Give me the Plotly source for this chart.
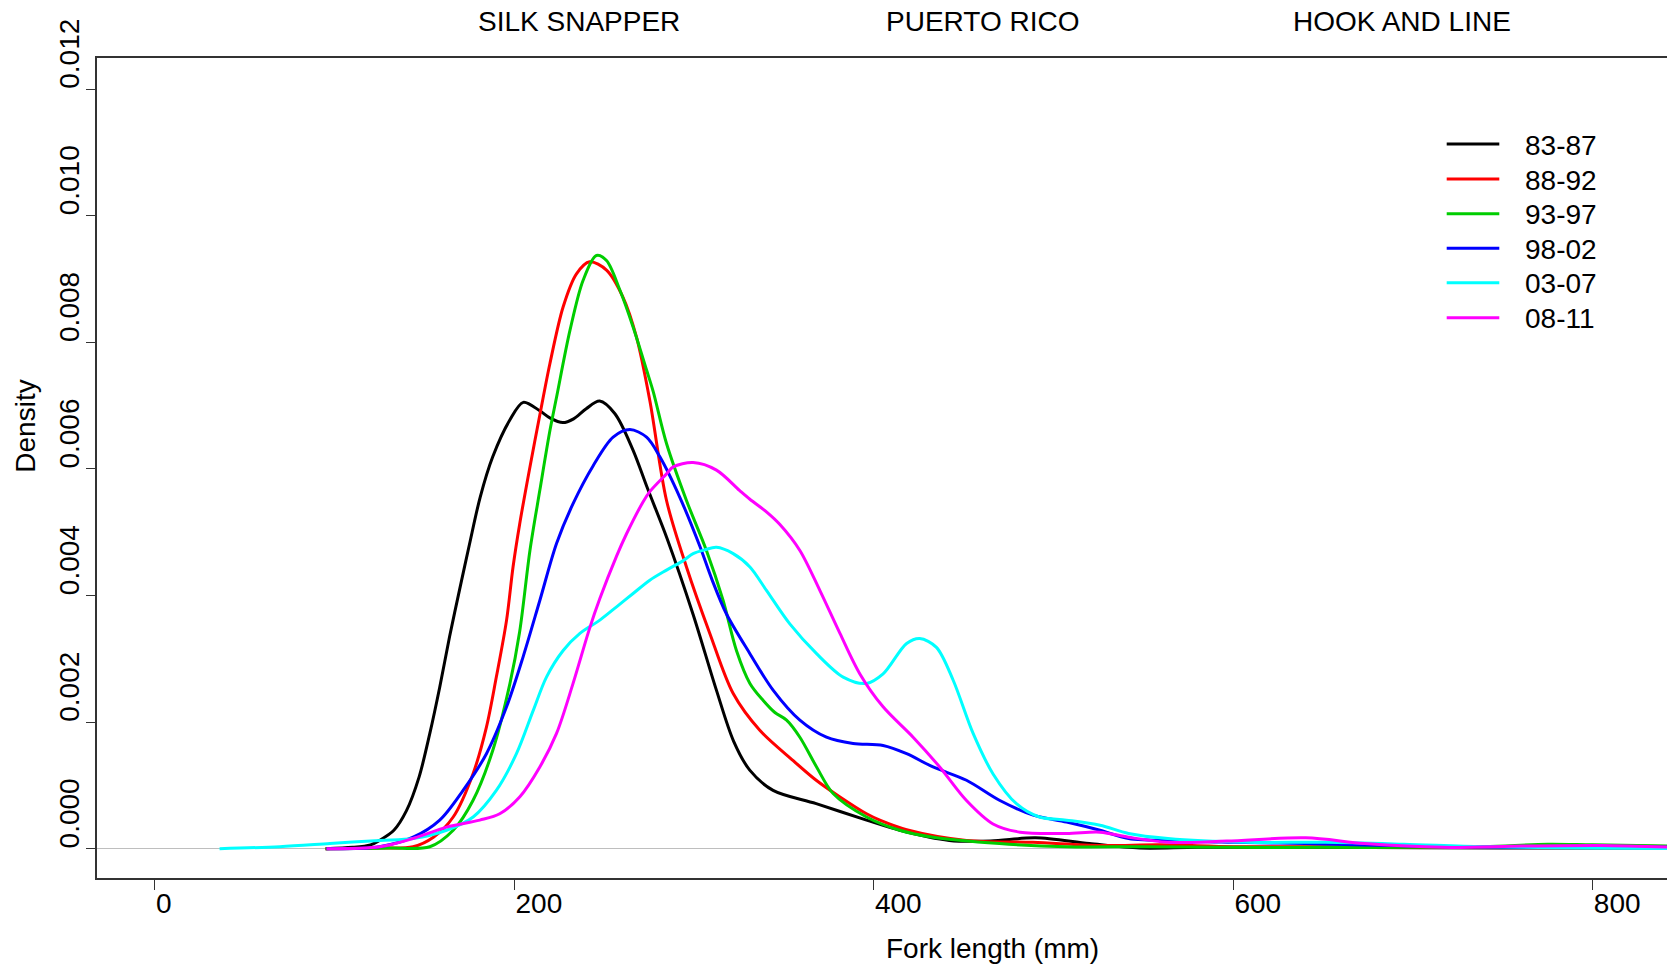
import plotly.graph_objects as go

# ---------------- data ----------------
series_names = ["83-87", "88-92", "93-97", "98-02", "03-07", "08-11"]
series_colors = ["#000000", "#FF0000", "#00CD00", "#0000FF", "#00FFFF", "#FF00FF"]

x_8387 = [95, 110, 120, 125, 133, 140, 147, 153, 158.5, 164, 170, 175, 181, 188, 197.5, 205, 214,
          220, 227, 233, 240, 247.5, 256, 266, 274, 285, 299.5, 312.5, 322, 331, 344, 368, 396,
          414.5, 442, 465, 490, 520, 548, 580, 650, 750, 850]
y_8387 = [0, 0.00002, 0.00006, 0.00013, 0.00029, 0.0006, 0.00113, 0.00182, 0.00255, 0.00335, 0.00415,
          0.0048, 0.00555, 0.00619, 0.00677, 0.00705, 0.00692, 0.0068, 0.00673, 0.00679, 0.00695,
          0.00707, 0.00687, 0.0063, 0.0057, 0.0049, 0.0037, 0.0025, 0.0017, 0.00124, 0.00092, 0.00071,
          0.00045, 0.00029, 0.00013, 0.00012, 0.00017, 0.00008, 0.00001, 0.00002, 0.00002, 0.00001,
          0.00001]

x_8892 = [95, 125, 143.7, 155, 166, 177, 184.5, 190, 195.7, 199.3, 203, 208.7, 214.2, 219.8, 227.2,
          234.6, 241.9, 251.3, 260.5, 268, 275.4, 284.7, 295.8, 308.8, 321.8, 336.6, 355.2, 368, 381,
          396, 403.4, 418.3, 451.6, 488.6, 525.9, 560, 600, 650, 700, 750, 790, 850]
y_8892 = [0, 0.00001, 0.00003, 0.00018, 0.0005, 0.00118, 0.00192, 0.00271, 0.00361, 0.00445, 0.00513,
          0.00603, 0.00685, 0.00766, 0.00856, 0.00908, 0.00927, 0.00914, 0.00871, 0.00808, 0.00708,
          0.0055, 0.00445, 0.0034, 0.00245, 0.00187, 0.00139, 0.00108, 0.00082, 0.00055, 0.00045,
          0.0003, 0.00013, 0.0001, 0.00005, 0.00006, 0.00003, 0.00003, 0.00002, 0.00003, 0.00005,
          0.00003]

x_9397 = [95, 130, 153, 166, 177, 188, 197.5, 203, 208.7, 214.2, 219.8, 223.5, 231, 238.3, 245.7,
          251.3, 258.8, 266.1, 273.6, 277.3, 284.7, 295.8, 306.9, 316.2, 323.6, 331.1, 338.5, 345,
          351.5, 358.9, 368.2, 377.4, 396, 414.5, 433, 470, 507, 550, 600, 650, 700, 740, 775, 800,
          850]
y_9397 = [0, 0.00001, 0.00003, 0.00029, 0.00076, 0.00155, 0.0026, 0.00343, 0.00471, 0.00566, 0.0066,
          0.00713, 0.00819, 0.00898, 0.00937, 0.00929, 0.00882, 0.00824, 0.00756, 0.00722, 0.0064,
          0.0055, 0.00471, 0.00392, 0.00313, 0.00261, 0.00234, 0.00215, 0.00203, 0.00176, 0.00129,
          0.00087, 0.0005, 0.00029, 0.00018, 0.00008, 0.00003, 0.00003, 0.00002, 0.00002, 0.00002,
          0.00003, 0.00007, 0.00006, 0.00004]

x_9802 = [95.5, 125, 143.7, 158.5, 171.5, 184.5, 195.7, 204.9, 214.2, 223.5, 232.7, 243.9, 255, 264.3,
          273.6, 281, 292.1, 303.2, 310, 318, 331.1, 344.1, 358.9, 373.7, 388.5, 405.2, 418.3,
          433, 451.6, 470.2, 488.7, 507.3, 525.9, 541.8, 570, 600, 640, 700, 760, 800, 850]
y_9802 = [0, 0.00003, 0.00018, 0.00045, 0.00092, 0.0015, 0.00224, 0.00303, 0.00392, 0.00482, 0.00545,
          0.00605, 0.0065, 0.00662, 0.0065, 0.00619, 0.00555, 0.00478, 0.00425, 0.00371, 0.00308,
          0.0025, 0.00203, 0.00176, 0.00166, 0.00163, 0.0015, 0.00129, 0.00108, 0.00076, 0.00053,
          0.00042, 0.00029, 0.00016, 0.00012, 0.0001, 0.00008, 0.00004, 0.00002, 0.00003, 0.00002]

x_0307 = [36, 69.5, 97.4, 125.2, 143.7, 162.3, 177.1, 190, 201.2, 210.5, 217.9, 227.2, 236.5, 247.6,
          256.9, 266.1, 275.4, 284.7, 294, 299.5, 306, 312.5, 321.8, 331.1, 340.3, 353.3, 368.2, 383,
          396, 405.2, 418.3, 425.6, 434.9, 444.2, 455.3, 466.4, 479.4, 492.2, 507.3, 525.9, 541.8,
          563.7, 607.5, 651.3, 695.1, 738.9, 800, 850]
y_0307 = [0, 0.00003, 0.00008, 0.00013, 0.00016, 0.00029, 0.0005, 0.00092, 0.0015, 0.00218, 0.00271,
          0.00313, 0.0034, 0.00361, 0.00382, 0.00403, 0.00424, 0.0044, 0.00455, 0.00466, 0.00472,
          0.00476, 0.00466, 0.00445, 0.00408, 0.00355, 0.00308, 0.00271, 0.00261, 0.00276, 0.00324,
          0.00332, 0.00318, 0.00266, 0.00182, 0.00118, 0.00071, 0.0005, 0.00045, 0.00037, 0.00024,
          0.00016, 0.0001, 0.0001, 0.00007, 0.00003, 0.00001, 0]

x_0811 = [95.5, 125.2, 143.7, 162.3, 180.8, 191.9, 203.1, 214.2, 223.5, 232.7, 241.9, 247.6, 256.9,
          262.4, 271.7, 275.4, 284.7, 288.4, 299.5, 312.5, 325.3, 331.1, 340.3, 347.8, 358.9, 370,
          381.2, 392.3, 405.2, 421.9, 436.7, 451.6, 466.4, 481.4, 507.3, 525.9, 541.8, 563.7, 596.5,
          640.4, 673.2, 717, 760.8, 804.6, 850]
y_0811 = [0, 0.00003, 0.00016, 0.00034, 0.00045, 0.00055, 0.00082, 0.00129, 0.00182, 0.00261, 0.00348,
          0.00395, 0.00462, 0.00497, 0.00548, 0.00564, 0.00592, 0.00603, 0.0061, 0.00598, 0.00566,
          0.00552, 0.00532, 0.00512, 0.00471, 0.00408, 0.0034, 0.00276, 0.00224, 0.00176, 0.00129,
          0.00076, 0.00039, 0.00026, 0.00024, 0.00026, 0.00018, 0.0001, 0.00012, 0.00017, 0.00008,
          0.00002, 0.00004, 0.00005, 0.00002]

x_tickvals = [0, 200, 400, 600, 800]
x_ticktext = ["0", "200", "400", "600", "800"]
y_tickvals = [0.0, 0.002, 0.004, 0.006, 0.008, 0.010, 0.012]
y_ticktext = ["0.000", "0.002", "0.004", "0.006", "0.008", "0.010", "0.012"]

header_texts = ["SILK SNAPPER", "PUERTO RICO", "HOOK AND LINE"]
x_title = "Fork length (mm)"
y_title = "Density"

# ---------------- figure ----------------
FONT = "Liberation Sans, Arial, Helvetica, sans-serif"
W, H = 1667, 966
ML, MR, MT, MB = 97, 0, 58, 88
PW, PH = W - ML - MR, H - MT - MB

xs = [x_8387, x_8892, x_9397, x_9802, x_0307, x_0811]
ys = [y_8387, y_8892, y_9397, y_9802, y_0307, y_0811]

fig = go.Figure()
for name, col, x, y in zip(series_names, series_colors, xs, ys):
    fig.add_trace(go.Scatter(
        x=x, y=y, mode="lines", name=name, showlegend=False,
        line=dict(color=col, width=3, shape="spline", smoothing=0.9),
    ))


def px2paper_x(px):
    return (px - ML) / PW


def px2paper_y(py):
    return 1 - (py - MT) / PH


annotations = []
shapes = []
for txt, cx in zip(header_texts, [579, 982, 1402]):
    annotations.append(dict(text=txt, x=px2paper_x(cx), y=px2paper_y(21.7), xref="paper", yref="paper",
                            xanchor="center", yanchor="middle", showarrow=False,
                            font=dict(family=FONT, size=28, color="black")))
annotations.append(dict(text=y_title, x=px2paper_x(26), y=px2paper_y(426.7), xref="paper", yref="paper",
                        xanchor="center", yanchor="middle", textangle=-90, showarrow=False,
                        font=dict(family=FONT, size=28, color="black")))
annotations.append(dict(text=x_title, x=px2paper_x(992.7), y=px2paper_y(948), xref="paper", yref="paper",
                        xanchor="center", yanchor="middle", showarrow=False,
                        font=dict(family=FONT, size=28, color="black")))

# legend (line samples + labels), one row per series
legend_row_px = [144, 179, 213.7, 248.3, 282.7, 317.7]
for name, col, ry in zip(series_names, series_colors, legend_row_px):
    shapes.append(dict(type="line", xref="paper", yref="paper",
                       x0=px2paper_x(1446.7), x1=px2paper_x(1499.3),
                       y0=px2paper_y(ry), y1=px2paper_y(ry),
                       line=dict(color=col, width=3)))
    annotations.append(dict(text=name, x=px2paper_x(1523), y=px2paper_y(ry + 1), xref="paper", yref="paper",
                            xanchor="left", yanchor="middle", showarrow=False,
                            font=dict(family=FONT, size=28, color="black")))

fig.update_layout(
    width=W, height=H,
    margin=dict(l=ML, r=MR, t=MT, b=MB, pad=0),
    paper_bgcolor="white", plot_bgcolor="white",
    font=dict(family=FONT, size=28, color="black"),
    showlegend=False,
    annotations=annotations,
    shapes=shapes,
)
fig.update_xaxes(
    range=[-32.2, 841.4], tickmode="array", tickvals=x_tickvals, ticktext=x_ticktext,
    ticks="outside", ticklen=10, tickwidth=1, tickcolor="#333333",
    ticklabelposition="outside right",
    showline=True, linecolor="#333333", linewidth=1.5, mirror=True,
    showgrid=False, zeroline=False,
    tickfont=dict(family=FONT, size=28, color="black"),
)
fig.update_yaxes(
    range=[-0.000464, 0.01249], tickmode="array", tickvals=y_tickvals, ticktext=y_ticktext,
    ticks="outside", ticklen=9, tickwidth=1, tickcolor="#333333",
    tickangle=-90, ticklabelposition="outside top", ticklabelshift=-11, ticklabelstandoff=5,
    showline=True, linecolor="#333333", linewidth=1.5, mirror=False,
    showgrid=False, zeroline=True, zerolinecolor="#BEBEBE", zerolinewidth=1,
    tickfont=dict(family=FONT, size=28, color="black"),
)

fig.write_html(
    "out.html",
    config={"displayModeBar": False},
    post_script="document.body.style.margin='0';document.body.style.overflow='hidden';",
)
